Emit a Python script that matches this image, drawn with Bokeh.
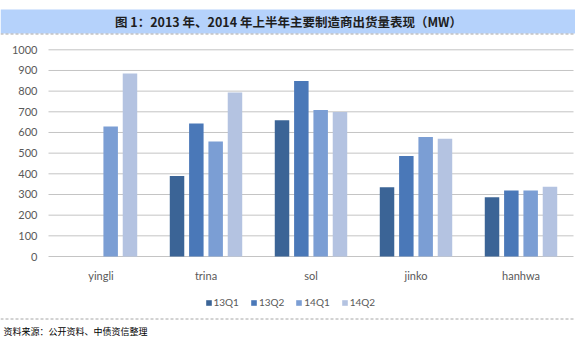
from bokeh.plotting import figure
from bokeh.models import ColumnDataSource, Range1d, Legend, LegendItem
from bokeh.core.properties import value
from bokeh.embed import file_html
from bokeh.resources import INLINE

companies = ["yingli", "trina", "sol", "jinko", "hanhwa"]
q13q1 = [0, 390, 659, 335, 287]
q13q2 = [0, 644, 849, 486, 319]
q14q1 = [629, 556, 709, 578, 319]
q14q2 = [885, 794, 699, 570, 338]
series_names = ["13Q1", "13Q2", "14Q1", "14Q2"]
series_colors = ["#3b6496", "#4a78b8", "#7b9ed4", "#b4c3e1"]
y_ticks = [0, 100, 200, 300, 400, 500, 600, 700, 800, 900, 1000]
y_tick_labels = [str(t) for t in y_ticks]
title_text = "图 1：2013 年、2014 年上半年主要制造商出货量表现（MW）"
source_text = "资料来源：公开资料、中债资信整理"

# ---- layout geometry (page pixels) ----
W, H = 575, 345
PLOT_LEFT, PLOT_RIGHT = 48, 573      # plot area horizontal extent
ZERO_Y, TOP_Y = 256, 49.3             # pixel rows of value 0 and value 1000
GROUP_PX = (PLOT_RIGHT - PLOT_LEFT) / len(companies)
PX_PER_UNIT = (ZERO_Y - TOP_Y) / 1000.0

def gx(px):  # page x pixel -> data x (group units)
    return (px - PLOT_LEFT) / GROUP_PX

def gy(py):  # page y pixel (from top) -> data y (value units)
    return (ZERO_Y - py) / PX_PER_UNIT

p = figure(width=W, height=H, x_range=Range1d(gx(0), gx(W)), y_range=Range1d(gy(H), gy(0)),
           output_backend="svg", toolbar_location=None, min_border=0,
           x_axis_location=None, y_axis_location=None)
p.grid.visible = False
p.outline_line_color = None
p.background_fill_color = "white"

FONT = value("Lato")
LABEL_COLOR = "#595959"

# title strip
p.quad(left=[gx(0)], right=[gx(W)], top=[gy(9)], bottom=[gy(33)], fill_color="#b5d2fb", line_color=None)
p.segment(x0=[gx(0)], x1=[gx(W)], y0=[gy(33.5)], y1=[gy(33.5)], line_color="#a6a6a6", line_width=1, line_dash="3 2")
p.text(x=[gx(288)], y=[gy(21)], text=[title_text], text_align="center", text_baseline="middle",
       text_font=value("Noto Sans CJK SC"), text_font_style="bold", text_font_size="12.5px",
       text_color="#1e1e1e")

# horizontal gridlines at the value ticks
p.segment(x0=[gx(PLOT_LEFT)] * len(y_ticks), x1=[gx(PLOT_RIGHT)] * len(y_ticks), y0=y_ticks, y1=y_ticks,
          line_color="#c4c4c4", line_width=1)
# y tick labels
p.text(x=[gx(37)] * len(y_ticks), y=y_ticks, text=y_tick_labels, text_align="right", text_baseline="middle",
       text_font=FONT, text_font_size="11px", text_color=LABEL_COLOR)

# bars
centers = [i + 0.5 for i in range(len(companies))]
step = 0.184
bw = 0.138
series = [q13q1, q13q2, q14q1, q14q2]
renderers = []
for k, vals in enumerate(series):
    src = ColumnDataSource(dict(x=[c + (k - 1.5) * step for c in centers], top=vals))
    r = p.vbar(x="x", top="top", bottom=0, width=bw, source=src,
               fill_color=series_colors[k], line_color=None)
    renderers.append(r)

# category labels
p.text(x=centers, y=[gy(274.5)] * len(companies), text=companies, text_align="center", text_baseline="middle",
       text_font=FONT, text_font_size="11px", text_color=LABEL_COLOR)

# legend
legend = Legend(items=[LegendItem(label=n, renderers=[r]) for n, r in zip(series_names, renderers)],
                orientation="horizontal", location=(204.5, H - 308), border_line_color=None,
                background_fill_alpha=0, glyph_width=7, glyph_height=7, label_standoff=2,
                spacing=11, padding=0, margin=0, label_height=12, label_text_font="Lato",
                label_text_font_size="10px", label_text_color=LABEL_COLOR)
p.add_layout(legend, "center")

# source strip
p.segment(x0=[gx(0)], x1=[gx(W)], y0=[gy(318.5)], y1=[gy(318.5)], line_color="#a6a6a6", line_width=1, line_dash="3 2")
p.text(x=[gx(3)], y=[gy(331)], text=[source_text], text_align="left", text_baseline="middle",
       text_font=value("Noto Sans CJK SC"), text_font_size="9px", text_color="#000000")

open("out.html", "w").write(file_html(p, INLINE))
